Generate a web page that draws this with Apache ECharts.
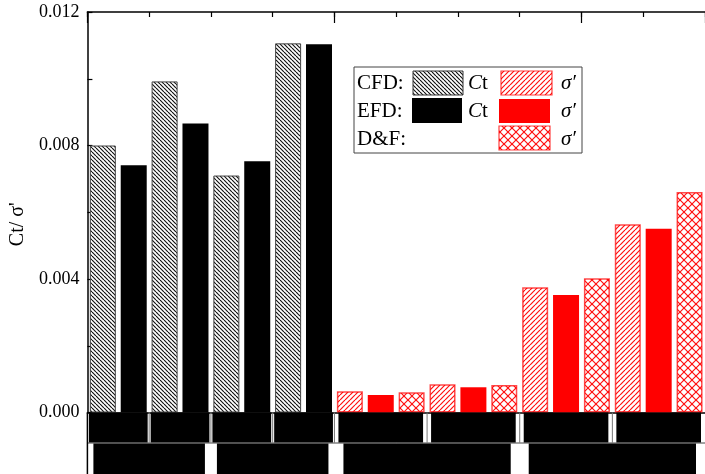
<!DOCTYPE html>
<html>
<head>
<meta charset="utf-8">
<script src="https://cdn.jsdelivr.net/npm/echarts@6/dist/echarts.min.js"></script>
<style>
  html, body { margin: 0; padding: 0; background: #fff; }
  #chart { width: 705px; height: 474px; }
</style>
</head>
<body>
<div id="chart"></div>
<script>
// Thrust coefficient cases (two bars each) and solidity cases (three bars each)
const ctCases = ['C1', 'C2', 'C3', 'C4'];
const sigmaCases = ['S1', 'S2', 'S3', 'S4'];
const cfdCt = [0.0080, 0.00992, 0.0071, 0.01106];
const efdCt = [0.00741, 0.00866, 0.00753, 0.01103];
const cfdSigma = [0.000636, 0.000846, 0.003754, 0.005643];
const efdSigma = [0.000525, 0.000756, 0.003523, 0.005502];
const dfSigma = [0.000605, 0.000825, 0.004024, 0.006603];
const yTicks = [0, 0.004, 0.008, 0.012];

const SERIF = 'Liberation Serif, Times New Roman, serif';

// one slot per bar along the category axis
const categories = [
  ...ctCases.flatMap(c => [c + ' CFD', c + ' EFD']),
  ...sigmaCases.flatMap(c => [c + ' CFD', c + ' EFD', c + ' D&F'])
];
const N = categories.length;
function slots(values, start, stride, offset) {
  const arr = new Array(N).fill(null);
  values.forEach((v, i) => { arr[start + i * stride + offset] = v; });
  return arr;
}
const sCfdCt = slots(cfdCt, 0, 2, 0);
const sEfdCt = slots(efdCt, 0, 2, 1);
const base = ctCases.length * 2;
const sCfdSig = slots(cfdSigma, base, 3, 0);
const sEfdSig = slots(efdSigma, base, 3, 1);
const sDfSig = slots(dfSigma, base, 3, 2);

// hatch fills
function makePattern(size, color, dirs, lw) {
  const c = document.createElement('canvas');
  c.width = size; c.height = size;
  const g = c.getContext('2d');
  g.fillStyle = '#fff';
  g.fillRect(0, 0, size, size);
  g.strokeStyle = color;
  g.lineWidth = lw;
  dirs.forEach(d => {
    for (let k = -1; k <= 1; k++) {
      g.beginPath();
      if (d === 'back') {          // "\" lines
        g.moveTo(k * size, 0);
        g.lineTo(k * size + size, size);
      } else {                     // "/" lines
        g.moveTo(k * size, size);
        g.lineTo(k * size + size, 0);
      }
      g.stroke();
    }
  });
  return { image: c, repeat: 'repeat' };
}
const blackHatch = makePattern(4, '#111', ['back'], 1.15);
const redHatch = makePattern(5, '#ff1010', ['fwd'], 1.2);
const redCross = makePattern(8, '#ff1010', ['back', 'fwd'], 1.2);

const BAR_W = 26;
function barSeries(name, data, color, border, bw) {
  return {
    name, type: 'bar', data,
    barWidth: BAR_W, barGap: '-100%',
    itemStyle: { color, borderColor: border, borderWidth: bw },
    xAxisIndex: 0, yAxisIndex: 0,
    silent: true
  };
}

const chart = echarts.init(document.getElementById('chart'), null, { renderer: 'canvas' });
chart.setOption({
  animation: false,
  backgroundColor: '#fff',
  grid: { left: 85, top: 12, width: 627, height: 400.5, containLabel: false },
  xAxis: [
    {
      type: 'category', data: categories, position: 'bottom',
      axisLine: { show: true, lineStyle: { color: '#000', width: 1.5 } },
      axisTick: { show: false }, axisLabel: { show: false }
    },
    {
      type: 'category', data: categories, position: 'top',
      axisLine: { show: true, lineStyle: { color: '#000', width: 1.5 } },
      axisTick: { show: true, inside: true, length: 5, lineStyle: { color: '#000', width: 1.2 } },
      axisLabel: { show: false }
    },
    {
      type: 'category', data: ['a', 'b', 'c', 'd', 'e'], position: 'top',
      axisLine: { show: false },
      axisTick: { show: true, inside: true, length: 11, interval: i => i % 2 === 0,
                  lineStyle: { color: '#000', width: 1.2 } },
      axisLabel: { show: false }
    }
  ],
  yAxis: {
    type: 'value', min: yTicks[0], max: yTicks[yTicks.length - 1],
    interval: yTicks[1] - yTicks[0],
    name: 'Ct/ σ\'', nameLocation: 'middle', nameGap: 54, nameRotate: 90,
    nameTextStyle: { fontFamily: SERIF, fontSize: 20, color: '#000', padding: [0, 24, 0, 0] },
    axisLine: { show: true, lineStyle: { color: '#000', width: 1.5 } },
    axisTick: { show: true, inside: true, length: 5, lineStyle: { color: '#000', width: 1.2 } },
    minorTick: { show: true, splitNumber: 2, length: 5, lineStyle: { color: '#000', width: 1.2 } },
    splitLine: { show: false },
    axisLabel: { fontFamily: SERIF, fontSize: 18, color: '#000', margin: 8,
                 formatter: v => v.toFixed(3) }
  },
  series: [
    barSeries('CFD Ct', sCfdCt, blackHatch, '#444', 1),
    barSeries('EFD Ct', sEfdCt, '#000', '#000', 0),
    barSeries('CFD σ\'', sCfdSig, redHatch, 'rgba(255,0,0,0.7)', 1.5),
    barSeries('EFD σ\'', sEfdSig, '#ff0000', '#ff0000', 0),
    barSeries('D&F σ\'', sDfSig, redCross, 'rgba(255,0,0,0.7)', 1.5)
  ]
});

// category label band beneath the axis, laid out from the axis scale
const c0 = chart.convertToPixel({ xAxisIndex: 0 }, categories[0]);
const c1 = chart.convertToPixel({ xAxisIndex: 0 }, categories[1]);
const step = c1 - c0;
const edge = k => c0 - step / 2 + k * step;
const y0 = chart.convertToPixel({ yAxisIndex: 0 }, 0);

const row1 = [[0, 2, 1.5], [2, 4, 1.5], [4, 6, 1.5], [6, 8, 1.5],
              [8, 11, 4], [11, 14, 4], [14, 17, 4], [17, 20, 4]];
const row2 = [[0, 4, 6], [4, 8, 6], [8, 14, 9], [14, 20, 9]];
const blocks = [];
row1.forEach(([a, b, pad]) => blocks.push({
  type: 'rect', shape: { x: edge(a) + pad, y: y0, width: edge(b) - edge(a) - 2 * pad, height: 30 },
  style: { fill: '#000' }, z: 10
}));
row2.forEach(([a, b, pad]) => blocks.push({
  type: 'rect', shape: { x: edge(a) + pad, y: y0 + 31, width: edge(b) - edge(a) - 2 * pad, height: 40 },
  style: { fill: '#000' }, z: 10
}));
// thin dividers at the group edges
for (let k = 1; k < N; k++) {
  const isEdge = row1.some(r => r[0] === k);
  if (isEdge) blocks.push({ type: 'line', shape: { x1: edge(k), y1: y0, x2: edge(k), y2: y0 + 30 },
                            style: { stroke: '#777', lineWidth: 1 }, z: 9 });
}
blocks.push({ type: 'line', shape: { x1: edge(0), y1: y0 + 30.5, x2: 705, y2: y0 + 30.5 },
              style: { stroke: '#444', lineWidth: 1 }, z: 9 });
blocks.push({ type: 'line', shape: { x1: edge(0), y1: y0, x2: edge(0), y2: 474 },
              style: { stroke: '#000', lineWidth: 1.5 }, z: 11 });

// legend box
const LX = 354, LY = 67;
const legendFont = '21px ' + SERIF;
const legend = [
  { type: 'rect', shape: { x: LX, y: LY, width: 228, height: 86 },
    style: { fill: '#fff', stroke: '#444', lineWidth: 1 }, z: 20 },
  { type: 'text', x: LX + 3, y: LY + 16, style: { text: 'CFD:', font: legendFont, fill: '#000', verticalAlign: 'middle' }, z: 21 },
  { type: 'text', x: LX + 3, y: LY + 44, style: { text: 'EFD:', font: legendFont, fill: '#000', verticalAlign: 'middle' }, z: 21 },
  { type: 'text', x: LX + 3, y: LY + 72, style: { text: 'D&F:', font: legendFont, fill: '#000', verticalAlign: 'middle' }, z: 21 },
  { type: 'rect', shape: { x: LX + 59, y: LY + 4, width: 50, height: 24 },
    style: { fill: blackHatch, stroke: '#333', lineWidth: 1 }, z: 21 },
  { type: 'rect', shape: { x: LX + 58, y: LY + 31, width: 50, height: 25 },
    style: { fill: '#000' }, z: 21 },
  { type: 'rect', shape: { x: LX + 147, y: LY + 4, width: 51, height: 24 },
    style: { fill: redHatch, stroke: 'rgba(255,0,0,0.75)', lineWidth: 1.2 }, z: 21 },
  { type: 'rect', shape: { x: LX + 145, y: LY + 32, width: 51, height: 24 },
    style: { fill: '#ff0000' }, z: 21 },
  { type: 'rect', shape: { x: LX + 145, y: LY + 59, width: 51, height: 24 },
    style: { fill: redCross, stroke: 'rgba(255,0,0,0.75)', lineWidth: 1.2 }, z: 21 }
];
const ctText = (y) => ({
  type: 'text', x: LX + 114, y,
  style: {
    text: '{i|C}t', font: legendFont, fill: '#000', verticalAlign: 'middle',
    rich: { i: { fontStyle: 'italic', fontFamily: SERIF, fontSize: 21 } }
  }, z: 21
});
const sigText = (y) => ({
  type: 'text', x: LX + 207, y,
  style: { text: 'σ′', font: 'italic 21px ' + SERIF, fill: '#000', verticalAlign: 'middle' }, z: 21
});
legend.push(ctText(LY + 16), ctText(LY + 44), sigText(LY + 16), sigText(LY + 44), sigText(LY + 72));

chart.setOption({ graphic: { elements: blocks.concat(legend) } });
</script>
</body>
</html>
